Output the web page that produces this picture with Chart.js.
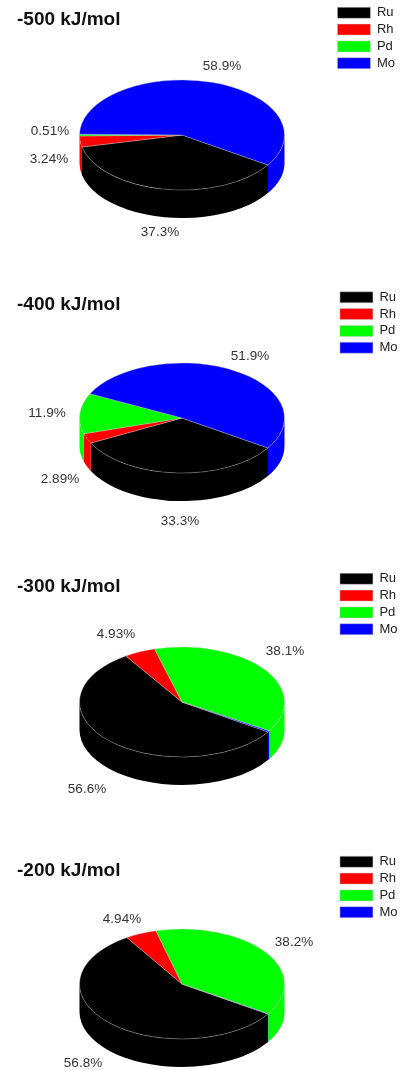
<!DOCTYPE html>
<html>
<head>
<meta charset="utf-8">
<title>Composition vs adsorption energy</title>
<script src="https://cdn.jsdelivr.net/npm/chart.js@4"></script>
<style>
    html, body { margin: 0; padding: 0; background: #fff; width: 401px; height: 1070px; overflow: hidden; }
    /* the source picture is a soft scan, a slight blur gets closer to it */
    .panel { position: absolute; left: 0; width: 401px; filter: blur(0.4px); }
</style>
</head>
<body>
<script>
const metals = ['Ru', 'Rh', 'Pd', 'Mo'];
const metalColors = ['#000000', '#ff0000', '#00ff00', '#0000ff'];
const energies = ['-500 kJ/mol', '-400 kJ/mol', '-300 kJ/mol', '-200 kJ/mol'];

// one entry per energy
const ruValues = [37.3, 33.3, 56.6, 56.8];
const rhValues = [3.24, 2.89, 4.93, 4.94];
const pdValues = [0.51, 11.9, 38.1, 38.2];
const moValues = [58.9, 51.9, 0.37, 0.06]; // last two have no label, estimated

// layout per panel
const panelTops = [0, 283, 567, 849];
const panelHeights = [283, 283, 283, 221];
const legendTops = [2.5, 4, 1.5, 2.5];
const legendRight = [2, -0.5, -0.5, -0.5];
const titleCentres = [20, 22, 20, 22];

// label centres inside each panel, in metal order
const labelSpots = [
    [[160, 232], [49, 159], [50, 131], [222, 66]],
    [[180, 238], [60, 196], [47, 130], [250, 73]],
    [[87, 222], [116, 67], [285, 84], null],
    [[83, 214], [122, 70], [294, 93], null]
];

const pieX = 182, pieY = 135, pieRadius = 102.5, squash = 0.537, pieDepth = 28;
const startRotation = 123;

// the library's arcs are flattened and moved to the pie centre
const tiltPlugin = {
    id: 'tilt',
    beforeDatasetsDraw(chart) {
        const ctx = chart.ctx;
        const arcs = chart.getDatasetMeta(0).data;
        const ry = pieRadius * squash;
        // side wall, only the part of each slice that faces the viewer
        arcs.forEach((arc, i) => {
            [0, 2 * Math.PI].forEach(turn => {
                const a = Math.max(arc.startAngle, turn);
                const b = Math.min(arc.endAngle, turn + Math.PI);
                if (b <= a) return;
                ctx.beginPath();
                ctx.ellipse(pieX, pieY, arc.outerRadius, ry, 0, a, b);
                ctx.ellipse(pieX, pieY + pieDepth, arc.outerRadius, ry, 0, b, a, true);
                ctx.closePath();
                ctx.fillStyle = metalColors[i];
                ctx.fill();
            });
        });
        const first = arcs[0];
        ctx.save();
        ctx.translate(pieX, pieY);
        ctx.scale(1, squash);
        ctx.translate(-first.x, -first.y);
    },
    afterDatasetsDraw(chart, args, opts) {
        const ctx = chart.ctx;
        ctx.restore();
        ctx.save();
        ctx.font = '13.5px "Liberation Sans"';
        ctx.fillStyle = '#333';
        ctx.textAlign = 'center';
        ctx.textBaseline = 'middle';
        opts.values.forEach((v, i) => {
            if (!opts.spots[i]) return;
            const text = (v < 1 ? v.toFixed(2) : v.toPrecision(3)) + '%';
            ctx.fillText(text, opts.spots[i][0], opts.spots[i][1]);
        });
        ctx.restore();
    }
};

energies.forEach((energy, p) => {
    const canvas = document.createElement('canvas');
    canvas.className = 'panel';
    canvas.style.top = panelTops[p] + 'px';
    canvas.width = 401;
    canvas.height = panelHeights[p];
    document.body.appendChild(canvas);

    const values = [ruValues[p], rhValues[p], pdValues[p], moValues[p]];
    new Chart(canvas.getContext('2d'), {
        type: 'pie',
        data: {
            labels: metals,
            datasets: [{
                data: values,
                backgroundColor: metalColors,
                borderColor: 'rgba(200, 200, 200, 0.7)',
                borderWidth: 0.7,
                clip: false
            }]
        },
        plugins: [tiltPlugin],
        options: {
            responsive: false,
            animation: false,
            rotation: startRotation,
            radius: pieRadius,
            layout: { padding: { left: 17, top: legendTops[p], right: legendRight[p] - 6, bottom: 0 } },
            plugins: {
                tooltip: { enabled: false },
                tilt: { values: values, spots: labelSpots[p] },
                title: {
                    display: true,
                    text: energy,
                    align: 'start',
                    position: 'top',
                    fullSize: false,
                    color: '#111',
                    font: { family: '"Liberation Sans"', size: 19, weight: 'bold' },
                    padding: { top: titleCentres[p] - 11.4 - legendTops[p], bottom: 0 }
                },
                legend: {
                    position: 'right',
                    align: 'start',
                    labels: {
                        boxWidth: 33,
                        boxHeight: 11,
                        padding: 3.8,
                        color: '#222',
                        font: { family: '"Liberation Sans"', size: 13 }
                    }
                }
            }
        }
    });
});
</script>
</body>
</html>
